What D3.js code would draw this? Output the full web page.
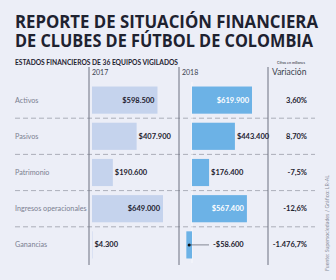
<!DOCTYPE html>
<html>
<head>
<meta charset="utf-8">
<script src="https://cdn.jsdelivr.net/npm/d3@7"></script>
<style>
  html, body { margin: 0; padding: 0; background: #eceef7; }
  svg { display: block; font-family: Lato, "Open Sans", sans-serif; }
</style>
</head>
<body>
<svg id="chart"></svg>
<script>
const width = 336
const height = 280

// data, millones de pesos
const categories = ["Activos", "Pasivos", "Patrimonio", "Ingresos operacionales", "Ganancias"]
const values2017 = [598500, 407900, 190600, 649000, 4300]
const values2018 = [619900, 443400, 176400, 567400, -58600]
const variacion = ["3,60%", "8,70%", "-7,5%", "-12,6%", "-1.476,7%"]
const titleLines = ["REPORTE DE SITUACIÓN FINANCIERA", "DE CLUBES DE FÚTBOL DE COLOMBIA"]

const col2017 = "#c5d3ed"
const col2018 = "#6cb2e6"
const textDark = "#1e2230"
const textGray = "#7b8091"

const fmt = function(v) {
	const s = d3.format(",")(Math.abs(v)).replace(/,/g, ".")
	return (v < 0 ? "-$" : "$") + s
}

const svg = d3.select("#chart")
	.attr("width", width)
	.attr("height", height)

svg.append("rect")
	.attr("width", width)
	.attr("height", height)
	.attr("fill", "#eceef7")

// Title
svg.selectAll(".title")
	.data(titleLines)
	.enter().append("text")
	.attr("class", "title")
	.attr("x", 15)
	.attr("y", function(d, i) { return 28 + i * 19 })
	.attr("textLength", function(d, i) { return i === 0 ? 303 : 298 })
	.attr("lengthAdjust", "spacingAndGlyphs")
	.style("font-family", "'Open Sans', sans-serif")
	.style("font-size", "18.5px")
	.style("font-weight", 700)
	.style("fill", textDark)
	.text(function(d) { return d })

svg.append("text")
	.attr("x", 15)
	.attr("y", 65)
	.attr("textLength", 163)
	.attr("lengthAdjust", "spacingAndGlyphs")
	.style("font-size", "7.5px")
	.style("font-weight", 700)
	.style("fill", textDark)
	.text("ESTADOS FINANCIEROS DE 36 EQUIPOS VIGILADOS")

svg.append("text")
	.attr("x", 277)
	.attr("y", 64)
	.attr("textLength", 28)
	.attr("lengthAdjust", "spacingAndGlyphs")
	.style("font-size", "4.5px")
	.style("fill", textDark)
	.text("Cifras en millones")

// Scales
const y = d3.scaleBand()
	.domain(categories)
	.range([82, 263])
	.paddingInner(0.25)
	.paddingOuter(0.125)

const x17 = d3.scaleLinear().domain([0, 649000]).range([92, 163])
const x18 = d3.scaleLinear().domain([0, 619900]).range([192, 252])

// Column headers
const headers = [
	{ label: "2017", x: 92, size: 7 },
	{ label: "2018", x: 182, size: 7 },
	{ label: "Variación", x: 272, size: 8.5 }
]
svg.selectAll(".header")
	.data(headers)
	.enter().append("text")
	.attr("x", function(d) { return d.x })
	.attr("y", 75)
	.style("font-size", function(d) { return d.size + "px" })
	.style("fill", "#3a3f4e")
	.text(function(d) { return d.label })

// Dashed row separators
const step = y.step()
svg.selectAll(".sep")
	.data(categories.slice(0, -1))
	.enter().append("line")
	.attr("x1", 15)
	.attr("x2", 315)
	.attr("y1", function(d) { return y(d) - y.paddingInner() * step / 2 + step })
	.attr("y2", function(d) { return y(d) - y.paddingInner() * step / 2 + step })
	.style("stroke", "#9a9ea9")
	.style("stroke-width", 0.8)
	.style("stroke-dasharray", "5,3")

// zero line for 2018
svg.append("line")
	.attr("x1", x18(0)).attr("x2", x18(0))
	.attr("y1", 82).attr("y2", 263)
	.style("stroke", "#f7f8fc")
	.style("stroke-width", 1)

// Vertical dividers
svg.selectAll(".divider")
	.data([89, 179, 268])
	.enter().append("line")
	.attr("x1", function(d) { return d })
	.attr("x2", function(d) { return d })
	.attr("y1", 67)
	.attr("y2", 265)
	.style("stroke", "#6d7180")
	.style("stroke-width", 1)

// Category labels
svg.selectAll(".cat")
	.data(categories)
	.enter().append("text")
	.attr("x", 15)
	.attr("y", function(d) { return y(d) + y.bandwidth() / 2 + 2.5 })
	.style("font-size", "7.2px")
	.style("fill", textGray)
	.text(function(d) { return d })

// Bars
function drawBars(values, x, color, cls) {
	const data = values.map(function(v, i) { return { cat: categories[i], v: v } })
	svg.selectAll("." + cls)
		.data(data)
		.enter().append("rect")
		.attr("class", cls)
		.attr("x", function(d) { return Math.min(x(0), x(d.v)) })
		.attr("y", function(d) { return y(d.cat) })
		.attr("width", function(d) { return Math.abs(x(d.v) - x(0)) })
		.attr("height", y.bandwidth())
		.style("fill", color)

	svg.selectAll("." + cls + "-label")
		.data(data)
		.enter().append("text")
		.attr("class", cls + "-label")
		.attr("x", function(d) {
			if (d.v < 0) return x(0) + 21
			return d.v > 500000 ? x(d.v) - 3 : x(d.v) + 2
		})
		.attr("y", function(d) { return y(d.cat) + y.bandwidth() / 2 + 2.5 })
		.attr("text-anchor", function(d) { return d.v > 500000 ? "end" : "start" })
		.style("font-size", "7.5px")
		.style("font-weight", 700)
		.style("fill", function(d) { return d.v > 500000 && cls === "b18" ? "#ffffff" : textDark })
		.text(function(d) { return fmt(d.v) })

	// leader for negative values
	const neg = data.filter(function(d) { return d.v < 0 })
	neg.forEach(function(d) {
		const cy = y(d.cat) + y.bandwidth() / 2
		const cx = (x(0) + x(d.v)) / 2
		svg.append("line")
			.attr("x1", cx).attr("x2", x(0) + 17)
			.attr("y1", cy).attr("y2", cy)
			.style("stroke", "#3a3f4e")
			.style("stroke-width", 0.6)
		svg.append("circle")
			.attr("cx", cx).attr("cy", cy).attr("r", 1.5)
			.style("fill", "#111")
	})
}

drawBars(values2017, x17, col2017, "b17")
drawBars(values2018, x18, col2018, "b18")

// Variación
svg.selectAll(".var")
	.data(variacion)
	.enter().append("text")
	.attr("x", 307)
	.attr("y", function(d, i) { return y(categories[i]) + y.bandwidth() / 2 + 2.5 })
	.attr("text-anchor", "end")
	.style("font-size", "7.5px")
	.style("font-weight", 700)
	.style("fill", textDark)
	.text(function(d) { return d })

// Source
svg.append("text")
	.attr("transform", "translate(329,271) rotate(-90)")
	.attr("textLength", 96)
	.attr("lengthAdjust", "spacingAndGlyphs")
	.style("font-size", "5.5px")
	.style("fill", "#8a8e9b")
	.text("Fuente: Supersociedades / Gráfico: LR-AL")
</script>
</body>
</html>
